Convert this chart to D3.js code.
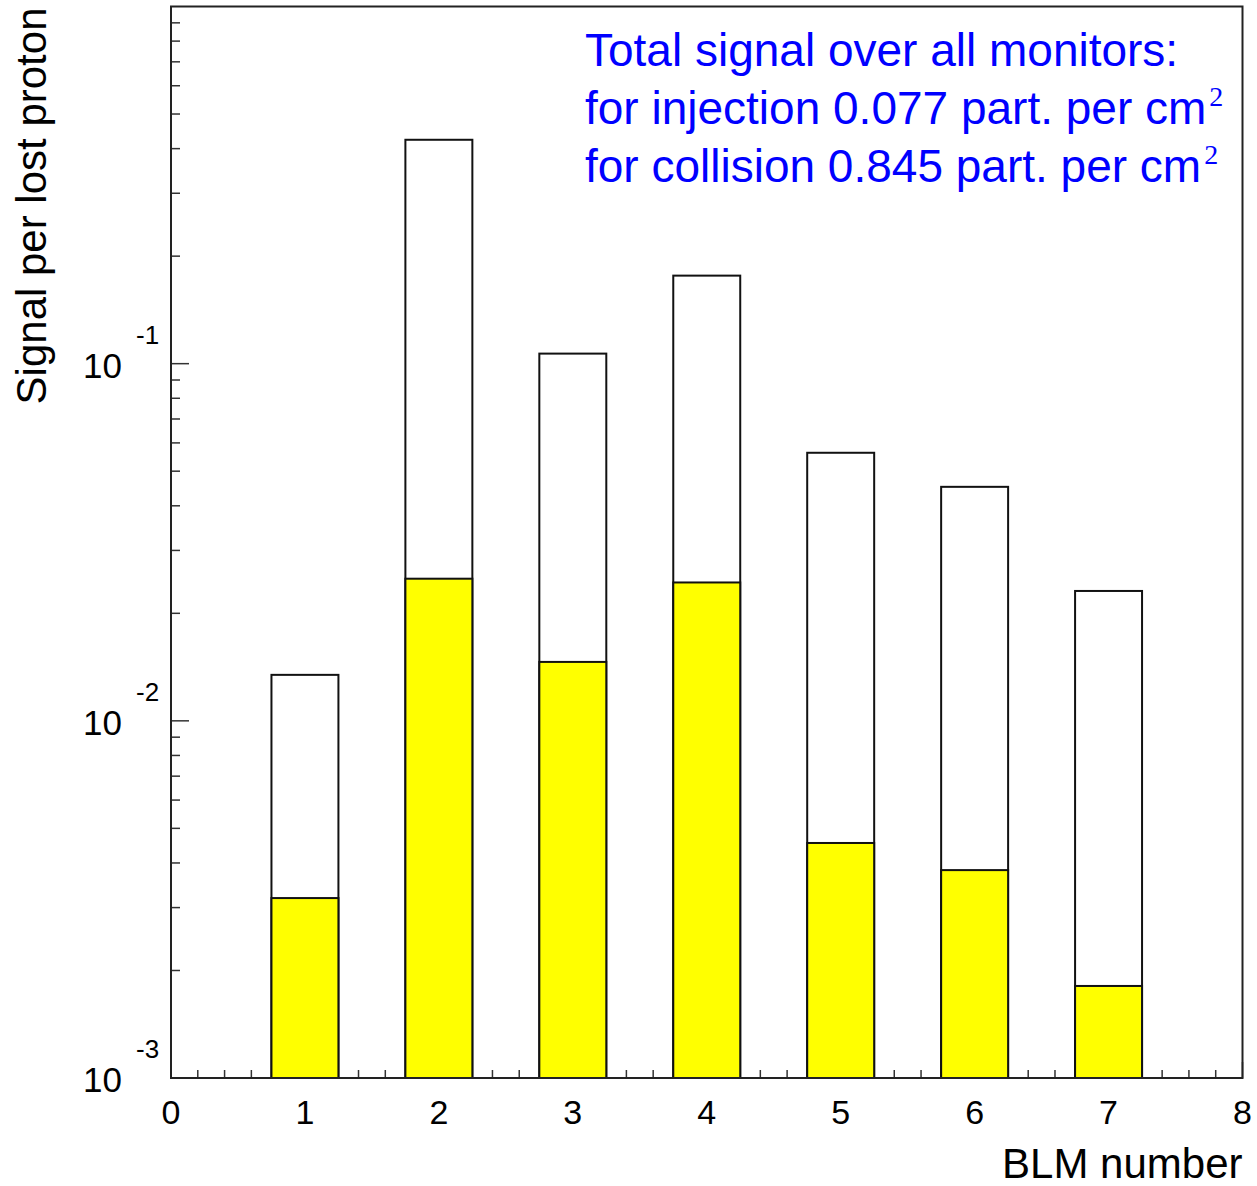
<!DOCTYPE html>
<html>
<head>
<meta charset="utf-8">
<script src="https://cdn.jsdelivr.net/npm/d3@7"></script>
<style>
  html, body { margin: 0; padding: 0; background: #fff; }
  svg { display: block; }
</style>
</head>
<body>
<svg id="chart" width="1257" height="1186"></svg>
<script>
// BLM monitor index along the x axis
const blmNumbers = [1, 2, 3, 4, 5, 6, 7];
// Signal per lost proton, collision optics (open bars)
const collisionSignal = [0.01345, 0.4235, 0.1067, 0.1764, 0.0563, 0.0452, 0.0231];
// Signal per lost proton, injection optics (yellow bars)
const injectionSignal = [0.00319, 0.0250, 0.01462, 0.0244, 0.00455, 0.00382, 0.00181];
// Axis tick labels
const xTickLabels = [0, 1, 2, 3, 4, 5, 6, 7, 8];
const yDecadeExponents = [-3, -2, -1];

const svg = d3.select("#chart");
const font = "'Liberation Sans', Arial, Helvetica, sans-serif";

const plot = { left: 171, right: 1242.5, top: 6.5, bottom: 1078 };

const x = d3.scaleLinear().domain([0, 8]).range([plot.left, plot.right]);
const y = d3.scaleLog().domain([1e-3, 1]).range([plot.bottom, plot.top]);

const barHalfWidth = 0.25;

// ---- ticks (drawn first, bars sit on top of them) ----
const tickColor = "#333";
const xMinor = d3.range(0, 8.0001, 0.2).filter(v => Math.abs(v - Math.round(v)) > 1e-6);
svg.append("g").selectAll("line.xminor").data(xMinor).join("line")
  .attr("x1", d => x(d)).attr("x2", d => x(d))
  .attr("y1", plot.bottom).attr("y2", plot.bottom - 8)
  .attr("stroke", tickColor).attr("stroke-width", 1.5);
svg.append("g").selectAll("line.xmajor").data(xTickLabels).join("line")
  .attr("x1", d => x(d)).attr("x2", d => x(d))
  .attr("y1", plot.bottom).attr("y2", plot.bottom - 16)
  .attr("stroke", tickColor).attr("stroke-width", 1.5);

const yMinor = [];
[-3, -2, -1].forEach(e => { for (let m = 2; m <= 9; m++) yMinor.push(m * Math.pow(10, e)); });
svg.append("g").selectAll("line.yminor").data(yMinor).join("line")
  .attr("x1", plot.left).attr("x2", plot.left + 9)
  .attr("y1", d => y(d)).attr("y2", d => y(d))
  .attr("stroke", tickColor).attr("stroke-width", 1.5);
svg.append("g").selectAll("line.ymajor").data(yDecadeExponents).join("line")
  .attr("x1", plot.left).attr("x2", plot.left + 18)
  .attr("y1", d => y(Math.pow(10, d))).attr("y2", d => y(Math.pow(10, d)))
  .attr("stroke", tickColor).attr("stroke-width", 1.5);

// ---- bars ----
const rows = blmNumbers.map((n, i) => ({ n, coll: collisionSignal[i], inj: injectionSignal[i] }));
const bars = svg.append("g");
bars.selectAll("rect.coll").data(rows).join("rect")
  .attr("x", d => x(d.n - barHalfWidth))
  .attr("width", d => x(d.n + barHalfWidth) - x(d.n - barHalfWidth))
  .attr("y", d => y(d.coll))
  .attr("height", d => y(1e-3) - y(d.coll))
  .attr("fill", "#ffffff").attr("stroke", "#111").attr("stroke-width", 2);
bars.selectAll("rect.inj").data(rows).join("rect")
  .attr("x", d => x(d.n - barHalfWidth))
  .attr("width", d => x(d.n + barHalfWidth) - x(d.n - barHalfWidth))
  .attr("y", d => y(d.inj))
  .attr("height", d => y(1e-3) - y(d.inj))
  .attr("fill", "#ffff00").attr("stroke", "#111").attr("stroke-width", 2);

// ---- frame ----
svg.append("rect")
  .attr("x", plot.left).attr("y", plot.top)
  .attr("width", plot.right - plot.left).attr("height", plot.bottom - plot.top)
  .attr("fill", "none").attr("stroke", "#222").attr("stroke-width", 2);

// ---- tick labels ----
svg.append("g").selectAll("text").data(xTickLabels).join("text")
  .attr("x", d => x(d)).attr("y", plot.bottom + 46)
  .attr("text-anchor", "middle")
  .attr("font-family", font).attr("font-size", 34).attr("fill", "#000")
  .text(d => d);

const yl = svg.append("g").selectAll("g").data(yDecadeExponents).join("g")
  .attr("transform", d => `translate(0,${y(Math.pow(10, d))})`);
yl.append("text")
  .attr("x", 122).attr("y", 14)
  .attr("text-anchor", "end")
  .attr("font-family", font).attr("font-size", 35).attr("fill", "#000")
  .text("10");
yl.append("text")
  .attr("x", 136).attr("y", -20)
  .attr("text-anchor", "start")
  .attr("font-family", font).attr("font-size", 26).attr("fill", "#000")
  .text(d => d);

// ---- axis titles ----
svg.append("text")
  .attr("x", plot.right).attr("y", 1178)
  .attr("text-anchor", "end")
  .attr("font-family", font).attr("font-size", 42).attr("fill", "#000")
  .text("BLM number");

svg.append("text")
  .attr("transform", `translate(46,${plot.top + 1}) rotate(-90)`)
  .attr("text-anchor", "end")
  .attr("font-family", font).attr("font-size", 42).attr("fill", "#000")
  .text("Signal per lost proton");

// ---- totals annotation ----
const totalInj = d3.sum(injectionSignal).toFixed(3);
const totalColl = d3.sum(collisionSignal).toFixed(3);
const noteLines = [
  { text: "Total signal over all monitors:", sup: null },
  { text: `for injection ${totalInj} part. per cm`, sup: "2" },
  { text: `for collision ${totalColl} part. per cm`, sup: "2" }
];
const note = svg.append("g");
noteLines.forEach((ln, i) => {
  const t = note.append("text")
    .attr("x", 585).attr("y", 66 + i * 58)
    .attr("font-family", font).attr("font-size", 46).attr("fill", "#0000ff");
  t.append("tspan").text(ln.text);
  if (ln.sup) {
    t.append("tspan")
      .attr("dx", 3).attr("dy", -18)
      .attr("font-family", "'Liberation Serif', 'Times New Roman', serif")
      .attr("font-size", 28)
      .text(ln.sup);
  }
});
</script>
</body>
</html>
